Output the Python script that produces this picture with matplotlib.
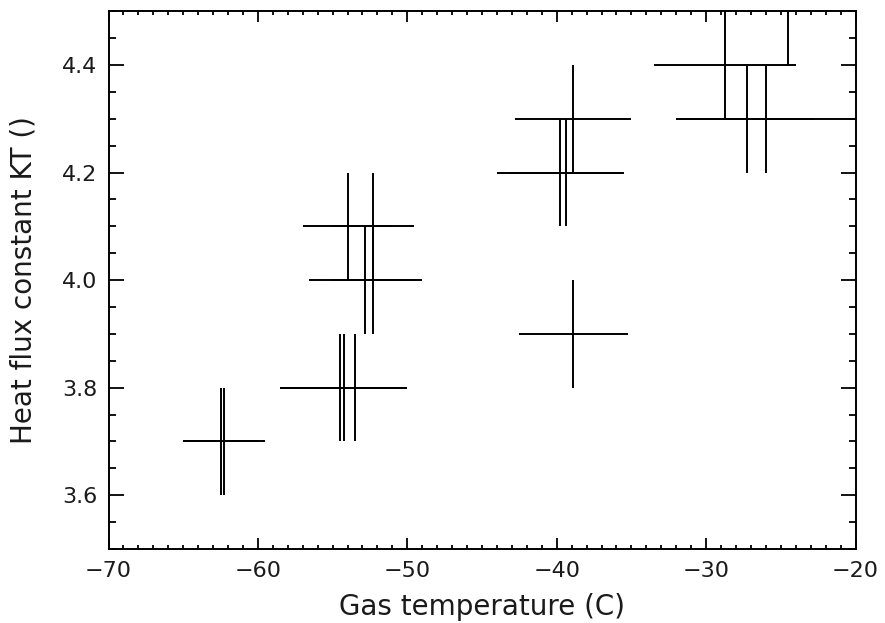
import matplotlib
matplotlib.use("Agg")
import matplotlib.pyplot as plt
from matplotlib.ticker import MultipleLocator

# gas temperature (C), heat flux constant and their uncertainties
temp = [-62.5, -62.25, -54.5, -54.25, -53.5, -54.0, -52.3, -52.8, -52.3,
        -39.8, -39.35, -38.9, -38.9, -28.75, -27.25, -26.0, -24.5]
temp_err = [2.5, 2.75, 4.0, 4.25, 3.5, 3.0, 2.75, 3.75, 2.75,
            4.2, 3.85, 3.9, 3.65, 4.75, 4.5, 6.0, 3.0]
kt = [3.7, 3.7, 3.8, 3.8, 3.8, 4.1, 4.1, 4.0, 4.0,
      4.2, 4.2, 4.3, 3.9, 4.4, 4.3, 4.3, 4.5]
kt_err = [0.1] * len(kt)

plt.rcParams['font.family'] = ['DejaVu Sans']

fig = plt.figure(figsize=(8.85, 6.23), dpi=100)
ax = fig.add_axes([0.1226, 0.1188, 0.8441, 0.8632])

ax.errorbar(temp, kt, xerr=temp_err, yerr=kt_err, fmt='none',
            ecolor='black', elinewidth=1.4, capsize=0)

ax.set_xlim(-70, -20)
ax.set_ylim(3.5, 4.5)

ax.xaxis.set_major_locator(MultipleLocator(10))
ax.xaxis.set_minor_locator(MultipleLocator(1))
ax.yaxis.set_major_locator(MultipleLocator(0.2))
ax.yaxis.set_minor_locator(MultipleLocator(0.05))
ax.yaxis.set_major_formatter(plt.FuncFormatter(lambda v, p: f"{v:.1f}"))

ax.tick_params(which='both', direction='in', top=True, right=True,
               width=1.3, color='black', labelsize=16, labelcolor='#1a1a1a')
ax.tick_params(axis='x', which='major', length=7.6, pad=9)
ax.tick_params(axis='x', which='minor', length=3.2)
ax.tick_params(axis='y', which='major', length=10.8, pad=8)
ax.tick_params(axis='y', which='minor', length=5)

for s in ax.spines.values():
    s.set_linewidth(1.4)

ax.set_xlabel("Gas temperature (C)", fontsize=20, color='#1a1a1a', labelpad=8)
ax.set_ylabel("Heat flux constant KT ()", fontsize=20, color='#1a1a1a', labelpad=18)

fig.savefig("out.png", dpi=100)
